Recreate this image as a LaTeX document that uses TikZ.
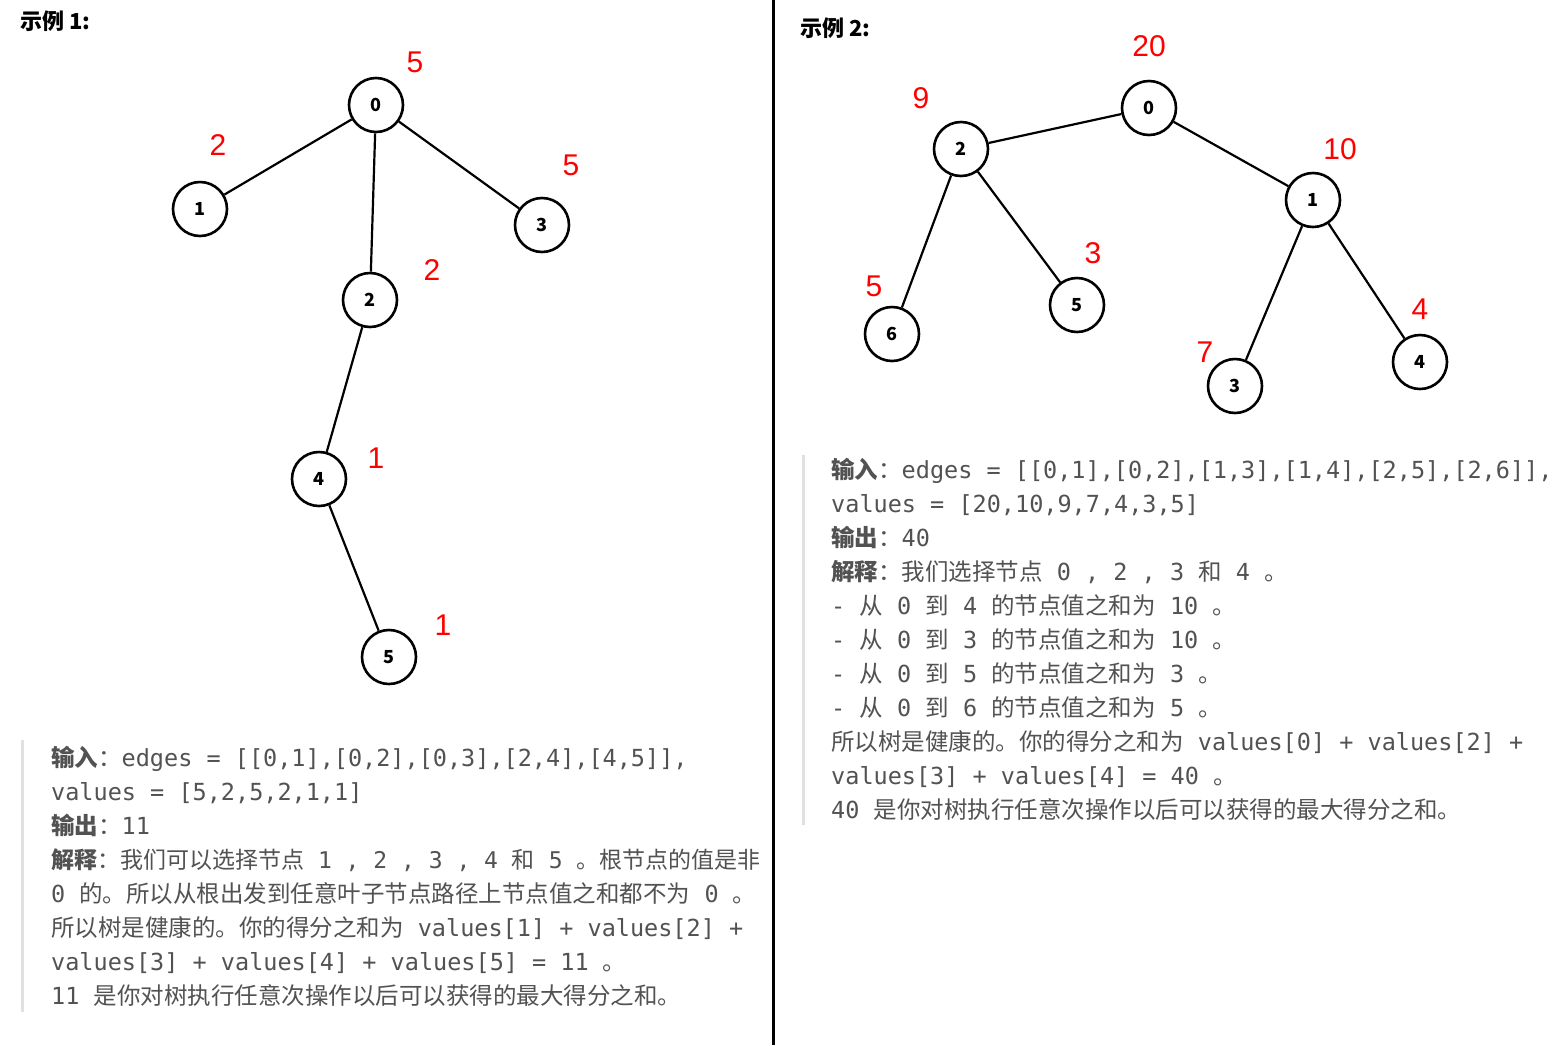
\documentclass[tikz,border=0pt]{standalone}
\usepackage{fontspec}
\setmainfont{Noto Sans CJK SC}
\newfontfamily\monof{DejaVu Sans Mono}
\newfontfamily\redf{Liberation Sans}
\newcommand{\mm}[1]{{\monof #1}}
\begin{document}
\begin{tikzpicture}[x=1pt,y=-1pt,
  tn/.style={circle,draw=black,line width=2.6pt,minimum size=54pt,inner sep=0pt,font=\fontsize{18}{18}\selectfont\bfseries, fill=white},
  ed/.style={line width=2.2pt},
  rl/.style={text=red,font=\redf\fontsize{30}{30}\selectfont},
  tx/.style={anchor=base west,inner sep=0pt,text=black!68,font=\fontsize{23.5}{23.5}\selectfont},
  ttl/.style={anchor=base west,inner sep=0pt,font=\fontsize{22}{22}\selectfont\bfseries}]
\useasboundingbox (0,0) rectangle (1568,1045);
\fill[white] (0,0) rectangle (1568,1045);
\draw[line width=3pt] (773,0) -- (773,1045);
\draw[line width=3pt,black!12] (22,740) -- (22,1012);
\draw[line width=3pt,black!12] (803,455) -- (803,825);
\node[ttl] (t1) at (20,29) {示例 1:};
\node[ttl] (t2) at (800,36) {示例 2:};
% left tree
\node[tn] (a0) at (376,105) {0};
\node[tn] (a1) at (200,209) {1};
\node[tn] (a3) at (542,225) {3};
\node[tn] (a2) at (370,300) {2};
\node[tn] (a4) at (319,479) {4};
\node[tn] (a5) at (389,657) {5};
\draw[ed] (a0)--(a1); \draw[ed] (a0)--(a3); \draw[ed] (a0)--(a2); \draw[ed] (a2)--(a4); \draw[ed] (a4)--(a5);
\node[rl] (l0) at (415,62) {5};
\node[rl] (l1) at (218,145) {2};
\node[rl] (l3) at (571,165) {5};
\node[rl] (l2) at (432,270) {2};
\node[rl] (l4) at (376,458) {1};
\node[rl] (l5) at (443,625) {1};
% right tree
\node[tn] (b0) at (1149,108) {0};
\node[tn] (b2) at (961,149) {2};
\node[tn] (b1) at (1313,200) {1};
\node[tn] (b6) at (892,334) {6};
\node[tn] (b5) at (1077,305) {5};
\node[tn] (b3) at (1235,386) {3};
\node[tn] (b4) at (1420,362) {4};
\draw[ed] (b0)--(b2); \draw[ed] (b0)--(b1); \draw[ed] (b2)--(b6); \draw[ed] (b2)--(b5); \draw[ed] (b1)--(b3); \draw[ed] (b1)--(b4);
\node[rl] (m0) at (1149,46) {20};
\node[rl] (m2) at (921,98) {9};
\node[rl] (m1) at (1340,149) {10};
\node[rl] (m6) at (874,286) {5};
\node[rl] (m5) at (1093,253) {3};
\node[rl] (m3) at (1205,352) {7};
\node[rl] (m4) at (1420,309) {4};
% left text
\node[tx] (p1) at (51,766) {\textbf{输入}：\mm{edges = [[0,1],[0,2],[0,3],[2,4],[4,5]],}};
\node[tx] (p2) at (51,800) {\mm{values = [5,2,5,2,1,1]}};
\node[tx] (p3) at (51,834) {\textbf{输出}：\mm{11}};
\node[tx,font=\fontsize{23}{23}\selectfont] (p4) at (51,868) {\textbf{解释}：我们可以选择节点\mm{ 1 , 2 , 3 , 4 }和\mm{ 5 }。根节点的值是非};
\node[tx] (p5) at (51,902) {\mm{0 }的。所以从根出发到任意叶子节点路径上节点值之和都不为\mm{ 0 }。};
\node[tx] (p6) at (51,936) {所以树是健康的。你的得分之和为\mm{ values[1] + values[2] +}};
\node[tx] (p7) at (51,970) {\mm{values[3] + values[4] + values[5] = 11 }。};
\node[tx] (p8) at (51,1004) {\mm{11 }是你对树执行任意次操作以后可以获得的最大得分之和。};
% right text
\node[tx] (q1) at (831,478) {\textbf{输入}：\mm{edges = [[0,1],[0,2],[1,3],[1,4],[2,5],[2,6]],}};
\node[tx] (q2) at (831,512) {\mm{values = [20,10,9,7,4,3,5]}};
\node[tx] (q3) at (831,546) {\textbf{输出}：\mm{40}};
\node[tx] (q4) at (831,580) {\textbf{解释}：我们选择节点\mm{ 0 , 2 , 3 }和\mm{ 4 }。};
\node[tx] (q5) at (831,614) {\mm{- }从\mm{ 0 }到\mm{ 4 }的节点值之和为\mm{ 10 }。};
\node[tx] (q6) at (831,648) {\mm{- }从\mm{ 0 }到\mm{ 3 }的节点值之和为\mm{ 10 }。};
\node[tx] (q7) at (831,682) {\mm{- }从\mm{ 0 }到\mm{ 5 }的节点值之和为\mm{ 3 }。};
\node[tx] (q8) at (831,716) {\mm{- }从\mm{ 0 }到\mm{ 6 }的节点值之和为\mm{ 5 }。};
\node[tx] (q9) at (831,750) {所以树是健康的。你的得分之和为\mm{ values[0] + values[2] +}};
\node[tx] (q10) at (831,784) {\mm{values[3] + values[4] = 40 }。};
\node[tx] (q11) at (831,818) {\mm{40 }是你对树执行任意次操作以后可以获得的最大得分之和。};
\end{tikzpicture}
\end{document}
